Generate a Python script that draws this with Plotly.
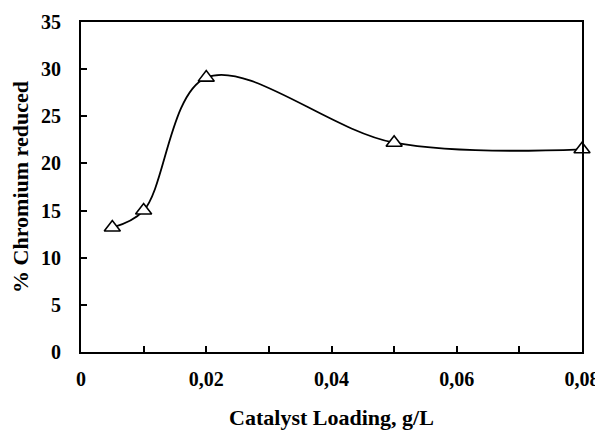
import plotly.graph_objects as go

loading = [0.005, 0.01, 0.02, 0.05, 0.08]
chromium = [13.2, 15.0, 29.1, 22.2, 21.5]

x_ticks = [0, 0.02, 0.04, 0.06, 0.08]
x_labels = ["0", "0,02", "0,04", "0,06", "0,08"]
y_ticks = [0, 5, 10, 15, 20, 25, 30, 35]

font_family = "Liberation Serif, Times New Roman, serif"

fig = go.Figure()
fig.add_trace(go.Scatter(
    x=loading, y=chromium, mode="lines+markers",
    line=dict(color="black", width=1.8, shape="spline", smoothing=1),
    marker=dict(symbol="triangle-up", size=14, color="white",
                line=dict(color="black", width=1.6)),
    showlegend=False, cliponaxis=False,
))

# page body has an 8px default margin; compensate so the plot lands where the reference has it
fig.update_layout(
    width=595, height=422,
    margin=dict(l=73, r=21, t=14, b=78),
    paper_bgcolor="white", plot_bgcolor="white",
    font=dict(family=font_family, size=20, color="black"),
)
fig.update_xaxes(
    range=[0, 0.08], tickvals=x_ticks, ticktext=x_labels,
    ticks="inside", ticklen=6, tickwidth=1.5, tickcolor="black",
    minor=dict(dtick=0.01, tick0=0, ticks="inside", ticklen=6, tickwidth=1.5, tickcolor="black"),
    showline=True, linecolor="black", linewidth=2, mirror=True,
    showgrid=False, zeroline=False, automargin=False,
    ticklabelstandoff=8,
    tickfont=dict(family=font_family, size=20, color="black", weight="bold"),
    title=dict(text="<b>Catalyst Loading, g/L</b>", font=dict(size=22), standoff=32),
)
fig.update_yaxes(
    range=[0, 35], tickvals=y_ticks,
    ticks="inside", ticklen=6, tickwidth=1.5, tickcolor="black",
    showline=True, linecolor="black", linewidth=2, mirror=True,
    showgrid=False, zeroline=False, automargin=False,
    ticklabelstandoff=14,
    tickfont=dict(family=font_family, size=20, color="black", weight="bold"),
    title=dict(text="<b>% Chromium reduced</b>", font=dict(size=22), standoff=7),
)

fig.write_html("out.html")
